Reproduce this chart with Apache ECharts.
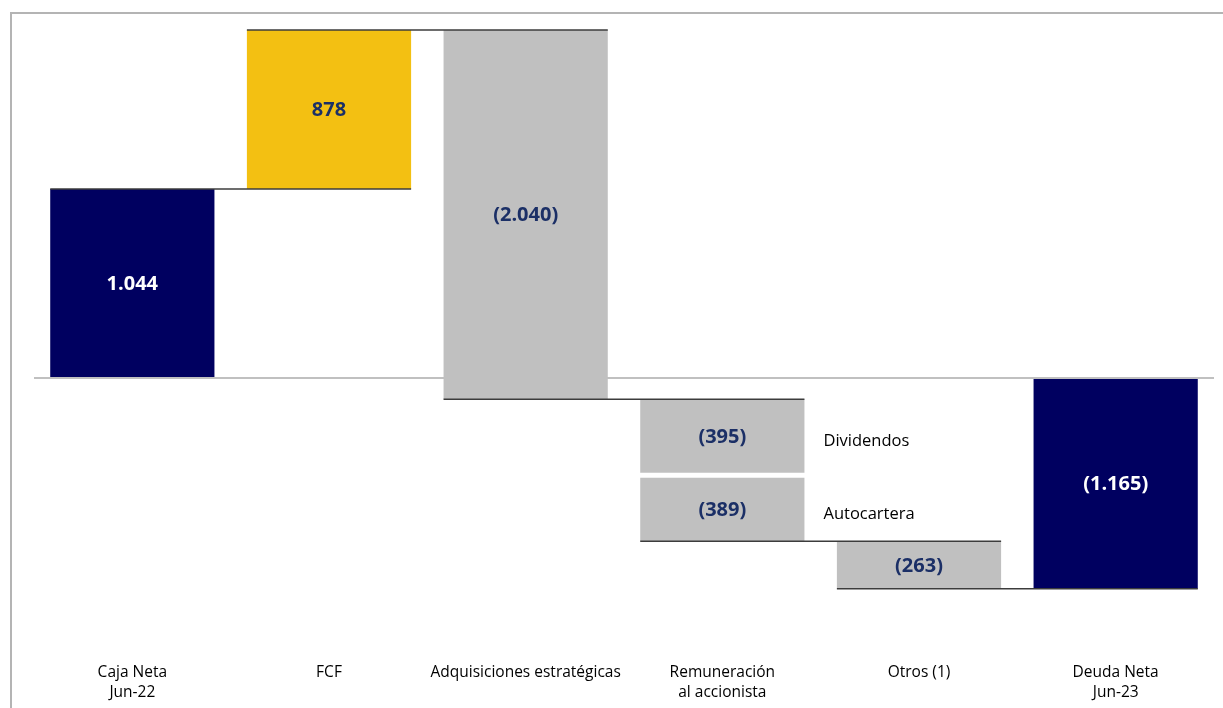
<!DOCTYPE html>
<html>
<head>
<meta charset="utf-8">
<script src="https://cdn.jsdelivr.net/npm/echarts@6/dist/echarts.min.js"></script>
<style>html,body{margin:0;padding:0;background:#fff}#c{width:1223px;height:708px}</style>
</head>
<body>
<div id="c"></div>
<script>
const categories = ['Caja Neta\nJun-22', 'FCF', 'Adquisiciones estratégicas', 'Remuneración\nal accionista', 'Otros (1)', 'Deuda Neta\nJun-23'];
const segCategory = [0, 1, 2, 3, 3, 4, 5];
const segValues = [1044, 878, -2040, -395, -389, -263, -1165];
const segKind = ['total', 'delta', 'delta', 'delta', 'delta', 'delta', 'total'];
const segLabels = ['1.044', '878', '(2.040)', '(395)', '(389)', '(263)', '(1.165)'];
const segNotes = ['', '', '', 'Dividendos', 'Autocartera', '', ''];

const COLORS = { total: '#000060', up: '#F3C012', down: '#C0C0C0' };
const BAR_RATIO = 0.835;

// build waterfall segments
let running = 0;
const barData = [];
segValues.forEach((v, i) => {
  let start, end;
  if (segKind[i] === 'total') { start = 0; end = v; running = v; }
  else { start = running; end = running + v; running = end; }
  barData.push([segCategory[i], start, end, i]);
});
// connectors between categories
const connData = [];
for (let i = 0; i < barData.length - 1; i++) {
  if (segCategory[i] !== segCategory[i + 1]) {
    connData.push([segCategory[i], segCategory[i + 1], barData[i][2]]);
  }
}

const chart = echarts.init(document.getElementById('c'));
const FONT = 'Open Sans';

chart.setOption({
  animation: false,
  grid: { left: 34, right: 9, top: 16, bottom: 58.5 },
  xAxis: {
    type: 'category', data: categories,
    axisLine: { show: false }, axisTick: { show: false },
    axisLabel: { color: '#000', fontFamily: FONT, fontSize: 15.5, lineHeight: 20, margin: 13, interval: 0 }
  },
  yAxis: { type: 'value', min: -1500, max: 2000, show: false, splitLine: { show: false } },
  graphic: [
    { type: 'line', shape: { x1: 10, y1: 13, x2: 1223, y2: 13 }, style: { stroke: '#b4b4b4', lineWidth: 2 } },
    { type: 'line', shape: { x1: 11, y1: 13, x2: 11, y2: 708 }, style: { stroke: '#b4b4b4', lineWidth: 2 } }
  ],
  series: [
    {
      type: 'custom',
      encode: { x: 0, y: [1, 2] },
      data: barData,
      renderItem: function (params, api) {
        const cat = api.value(0), s = api.value(1), e = api.value(2), idx = api.value(3);
        const p1 = api.coord([cat, s]);
        const p2 = api.coord([cat, e]);
        const w = api.size([1, 0])[0] * BAR_RATIO;
        let top = Math.min(p1[1], p2[1]);
        let bot = Math.max(p1[1], p2[1]);
        // white gap between stacked pieces of the same category
        if (idx > 0 && segCategory[idx - 1] === segCategory[idx]) top += 7;
        if (idx < segCategory.length - 1 && segCategory[idx + 1] === segCategory[idx]) bot += 2;
        const kind = segKind[idx];
        const color = kind === 'total' ? COLORS.total : (segValues[idx] >= 0 ? COLORS.up : COLORS.down);
        const x = p1[0] - w / 2;
        const children = [
          { type: 'rect', shape: { x: x, y: top, width: w, height: bot - top }, style: { fill: color } },
          { type: 'text', x: p1[0], y: (top + bot) / 2 + 1, style: {
              text: segLabels[idx], fill: kind === 'total' ? '#ffffff' : '#1B2F66',
              font: 'bold 20px "' + FONT + '"', align: 'center', verticalAlign: 'middle' } }
        ];
        if (segNotes[idx]) {
          children.push({ type: 'text', x: x + w + 19, y: (top + bot) / 2 + 5, style: {
            text: segNotes[idx], fill: '#000', font: '16.5px "' + FONT + '"', align: 'left', verticalAlign: 'middle' } });
        }
        return { type: 'group', children: children };
      }
    },
    {
      type: 'custom',
      encode: { x: [0, 1], y: 2 },
      data: connData,
      z: 3,
      renderItem: function (params, api) {
        const a = api.coord([api.value(0), api.value(2)]);
        const b = api.coord([api.value(1), api.value(2)]);
        const h = api.size([1, 0])[0] * BAR_RATIO / 2;
        return { type: 'line', shape: { x1: a[0] - h, y1: a[1], x2: b[0] + h, y2: b[1] },
          style: { stroke: '#3c3c3c', lineWidth: 1.5 } };
      },
      markLine: {
        silent: true, symbol: ['none', 'none'], label: { show: false },
        lineStyle: { color: '#c0c0c0', width: 2, type: 'solid' },
        data: [{ yAxis: 0 }]
      }
    }
  ]
});
</script>
</body>
</html>
